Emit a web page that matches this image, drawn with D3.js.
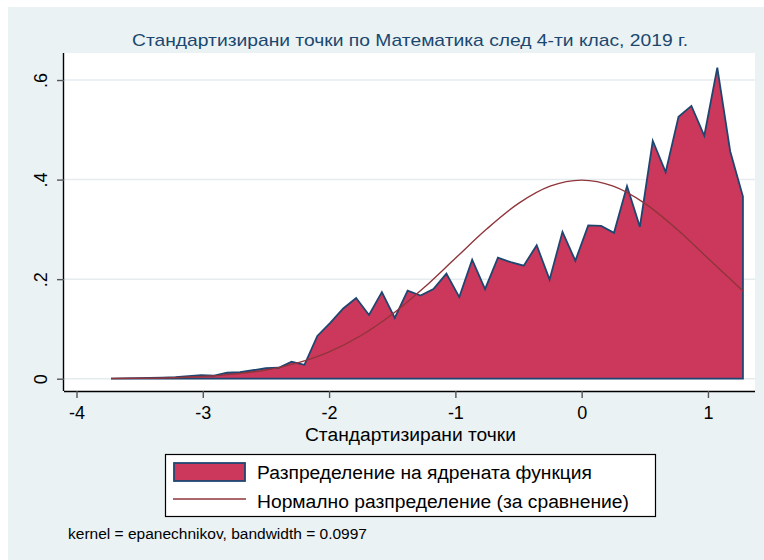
<!DOCTYPE html>
<html>
<head>
<meta charset="utf-8">
<script src="https://cdn.jsdelivr.net/npm/d3@7"></script>
<style>
  html, body { margin: 0; padding: 0; background: #ffffff; }
  svg { display: block; font-family: "Liberation Sans", Arial, sans-serif; }
</style>
</head>
<body>
<svg id="chart" width="764" height="560"></svg>
<script>
// ---- data ----
const titleText = "Стандартизирани точки по Математика след 4-ти клас, 2019 г.";
const xAxisTitle = "Стандартизирани точки";
const noteText = "kernel = epanechnikov, bandwidth = 0.0997";
const legendLabels = ["Разпределение на ядрената функция", "Нормално разпределение (за сравнение)"];

const xTicks = [-4, -3, -2, -1, 0, 1];
const xTickLabels = ["-4", "-3", "-2", "-1", "0", "1"];
const yTicks = [0, 0.2, 0.4, 0.6];
const yTickLabels = ["0", ".2", ".4", ".6"];

// kernel density estimate (50 evaluation points)
const densityX = [-3.727, -3.625, -3.523, -3.421, -3.318, -3.216, -3.114, -3.012, -2.910, -2.808,
                  -2.706, -2.603, -2.501, -2.399, -2.297, -2.195, -2.093, -1.991, -1.888, -1.786,
                  -1.684, -1.582, -1.480, -1.378, -1.276, -1.174, -1.071, -0.969, -0.867, -0.765,
                  -0.663, -0.561, -0.459, -0.356, -0.254, -0.152, -0.050, 0.052, 0.154, 0.256,
                  0.359, 0.461, 0.563, 0.665, 0.767, 0.869, 0.971, 1.074, 1.176, 1.277];
const densityY = [0.000, 0.0005, 0.001, 0.0015, 0.002, 0.003, 0.005, 0.007, 0.006, 0.012,
                  0.013, 0.017, 0.021, 0.022, 0.034, 0.028, 0.086, 0.112, 0.141, 0.162,
                  0.128, 0.174, 0.122, 0.177, 0.167, 0.180, 0.211, 0.164, 0.239, 0.180,
                  0.243, 0.234, 0.227, 0.268, 0.199, 0.295, 0.237, 0.308, 0.307, 0.293,
                  0.387, 0.305, 0.478, 0.415, 0.526, 0.548, 0.488, 0.625, 0.457, 0.366];

// comparison normal curve
const normalX = [-3.727, -3.5, -3.25, -3.0, -2.75, -2.5, -2.25, -2.0, -1.75, -1.5, -1.25, -1.0,
                 -0.75, -0.5, -0.25, 0.0, 0.25, 0.5, 0.75, 1.0, 1.277];
const normalY = [0.0004, 0.0009, 0.0020, 0.0044, 0.0091, 0.0175, 0.0317, 0.0540, 0.0863, 0.1295,
                 0.1826, 0.2420, 0.3011, 0.3521, 0.3867, 0.3989, 0.3867, 0.3521, 0.3011, 0.2420, 0.1763];

// ---- styles ----
const bgColor = "#eaf2f3";
const gridColor = "#e4ecee";
const fillColor = "#cb385c";
const outlineColor = "#1f4670";
const normalColor = "#90353b";
const titleColor = "#1a476f";

const svg = d3.select("#chart");

// outer graph region
svg.append("rect").attr("x", 8).attr("y", 7).attr("width", 756).attr("height", 553).attr("fill", bgColor);

const plot = { left: 64, right: 755, top: 53, bottom: 391 };

const x = d3.scaleLinear().domain([-4.099, 1.3725]).range([plot.left, plot.right]);
const y = d3.scaleLinear().domain([-0.0247, 0.6543]).range([plot.bottom, plot.top]);

// plot region
svg.append("rect")
  .attr("x", plot.left).attr("y", plot.top)
  .attr("width", plot.right - plot.left).attr("height", plot.bottom - plot.top)
  .attr("fill", "#ffffff");

// grid lines
svg.append("g").selectAll("line").data(yTicks).join("line")
  .attr("x1", plot.left).attr("x2", plot.right)
  .attr("y1", d => y(d)).attr("y2", d => y(d))
  .attr("stroke", gridColor).attr("stroke-width", 1.5);

// density area
const densityPts = densityX.map((d, i) => [d, densityY[i]]);
const area = d3.area()
  .x(d => x(d[0])).y0(y(0)).y1(d => y(d[1]));
svg.append("path")
  .attr("d", area(densityPts))
  .attr("fill", fillColor)
  .attr("stroke", outlineColor)
  .attr("stroke-width", 1.8)
  .attr("stroke-linejoin", "miter");

// normal curve
const normalPts = normalX.map((d, i) => [d, normalY[i]]);
const line = d3.line().x(d => x(d[0])).y(d => y(d[1])).curve(d3.curveMonotoneX);
svg.append("path")
  .attr("d", line(normalPts))
  .attr("fill", "none")
  .attr("stroke", normalColor)
  .attr("stroke-width", 1.4);

// axes
const xAxis = d3.axisBottom(x).tickValues(xTicks).tickSize(7).tickPadding(8)
  .tickFormat((d, i) => xTickLabels[i]);
const gx = svg.append("g").attr("transform", `translate(0,${plot.bottom})`).call(xAxis);
gx.select(".domain").attr("d", `M${plot.left},0.5H${plot.right}`).attr("stroke", "#000").attr("stroke-width", 1.4);
gx.selectAll(".tick line").attr("stroke", "#555").attr("stroke-width", 1.4);
gx.selectAll(".tick text").attr("font-size", 18).attr("fill", "#000")
  .attr("font-family", "'Liberation Sans', Arial, sans-serif");

const yAxis = d3.axisLeft(y).tickValues(yTicks).tickSize(7).tickPadding(4)
  .tickFormat((d, i) => yTickLabels[i]);
const gy = svg.append("g").attr("transform", `translate(${plot.left},0)`).call(yAxis);
gy.select(".domain").attr("d", `M-0.5,${plot.top}V${plot.bottom}`).attr("stroke", "#000").attr("stroke-width", 1.4);
gy.selectAll(".tick line").attr("stroke", "#555").attr("stroke-width", 1.4);
gy.selectAll(".tick text")
  .attr("font-size", 18).attr("fill", "#000")
  .attr("font-family", "'Liberation Sans', Arial, sans-serif")
  .attr("text-anchor", "middle")
  .attr("dy", 0)
  .attr("x", null)
  .attr("transform", "translate(-17,0) rotate(-90)");

// title
svg.append("text")
  .attr("x", 410).attr("y", 46)
  .attr("text-anchor", "middle")
  .attr("font-size", 17)
  .attr("textLength", 556).attr("lengthAdjust", "spacingAndGlyphs")
  .attr("fill", titleColor)
  .text(titleText);

// x axis title
svg.append("text")
  .attr("x", 410.5).attr("y", 441)
  .attr("text-anchor", "middle")
  .attr("font-size", 18)
  .attr("textLength", 211).attr("lengthAdjust", "spacingAndGlyphs")
  .attr("fill", "#000")
  .text(xAxisTitle);

// legend
const lg = svg.append("g");
lg.append("rect").attr("x", 165.5).attr("y", 454.5).attr("width", 490).attr("height", 62)
  .attr("fill", "#fff").attr("stroke", "#000").attr("stroke-width", 1.2);
lg.append("rect").attr("x", 174).attr("y", 463).attr("width", 71).attr("height", 18)
  .attr("fill", fillColor).attr("stroke", outlineColor).attr("stroke-width", 1.8);
lg.append("line").attr("x1", 173).attr("x2", 246).attr("y1", 499).attr("y2", 499)
  .attr("stroke", normalColor).attr("stroke-width", 1.4);
lg.append("text").attr("x", 257).attr("y", 479).attr("font-size", 18)
  .attr("textLength", 335).attr("lengthAdjust", "spacingAndGlyphs")
  .attr("fill", "#000").text(legendLabels[0]);
lg.append("text").attr("x", 257).attr("y", 508).attr("font-size", 18)
  .attr("textLength", 372).attr("lengthAdjust", "spacingAndGlyphs")
  .attr("fill", "#000").text(legendLabels[1]);

// note
svg.append("text")
  .attr("x", 68).attr("y", 539)
  .attr("font-size", 14)
  .attr("textLength", 299).attr("lengthAdjust", "spacingAndGlyphs")
  .attr("fill", "#000")
  .text(noteText);
</script>
</body>
</html>
